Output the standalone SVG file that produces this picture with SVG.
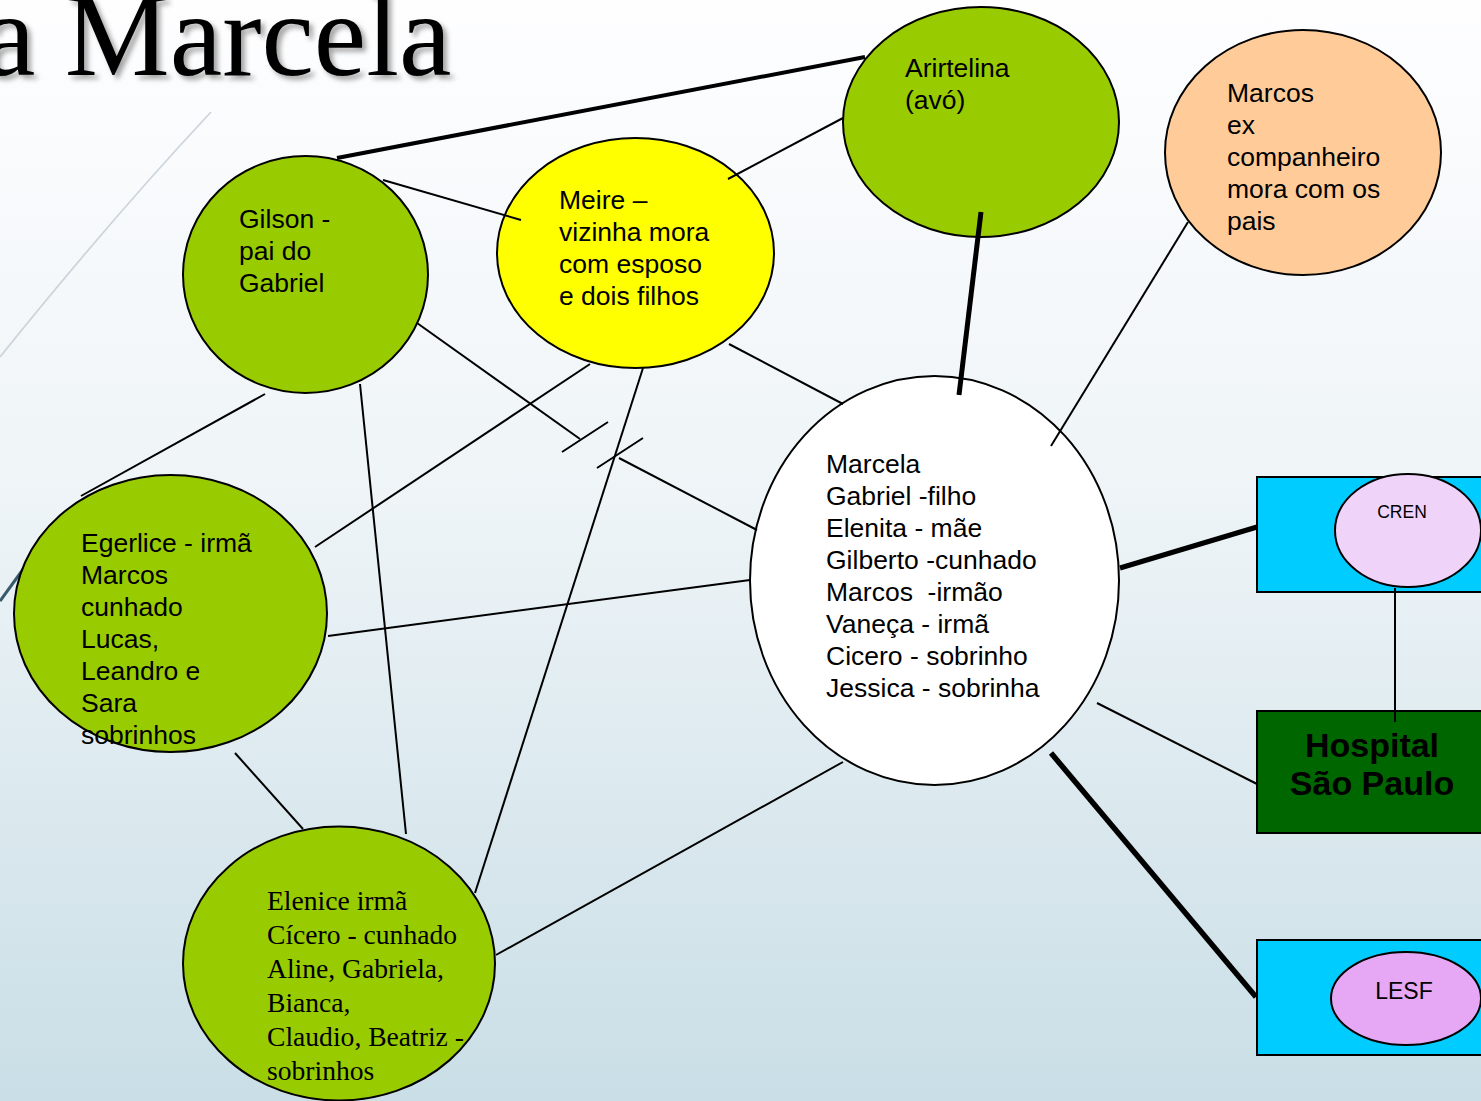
<svg xmlns="http://www.w3.org/2000/svg" width="1481" height="1101" viewBox="0 0 1481 1101">
  <defs>
    <linearGradient id="bg" x1="0" y1="0" x2="0" y2="1">
      <stop offset="0" stop-color="#fefeff"/>
      <stop offset="0.45" stop-color="#eef4f7"/>
      <stop offset="1" stop-color="#c9dee6"/>
    </linearGradient>
    <filter id="shadow" x="-10%" y="-20%" width="120%" height="150%">
      <feGaussianBlur in="SourceAlpha" stdDeviation="2.5"/>
      <feOffset dx="4" dy="4" result="b"/>
      <feFlood flood-color="#000" flood-opacity="0.35"/>
      <feComposite in2="b" operator="in"/>
      <feMerge><feMergeNode/><feMergeNode in="SourceGraphic"/></feMerge>
    </filter>
    <style>
      .node { stroke: #000; stroke-width: 2; }
      .green { fill: #99cc00; }
      .sans { font-family: "Liberation Sans", Arial, sans-serif; font-size: 26.5px; fill: #000; }
      .serif { font-family: "Liberation Serif", "Times New Roman", serif; font-size: 27.6px; fill: #000; }
      .thin { stroke: #000; stroke-width: 2; fill: none; }
      .thick { stroke: #000; stroke-width: 5; fill: none; }
    </style>
  </defs>

  <rect width="1481" height="1101" fill="url(#bg)"/>

  <!-- theme decoration arcs -->
  <path d="M211,112 Q110,220 0,357" fill="none" stroke="#cdd5dc" stroke-width="1.8"/>
  <path d="M0,601 L24,568" fill="none" stroke="#36596c" stroke-width="3"/>

  <!-- title (runs past the left and top edges of the slide) -->
  <text x="-17" y="75" font-family="'Liberation Serif', 'Times New Roman', serif" font-size="118" fill="#000" filter="url(#shadow)">a Marcela</text>

  <!-- nodes -->
  <g id="gilson">
    <ellipse class="node green" cx="305.5" cy="274.5" rx="122.5" ry="118.5"/>
    <text class="sans"><tspan x="239" y="228">Gilson -</tspan><tspan x="239" y="260">pai do</tspan><tspan x="239" y="292">Gabriel</tspan></text>
  </g>
  <g id="meire">
    <ellipse class="node" fill="#ffff00" cx="635.5" cy="253" rx="138.5" ry="115"/>
    <text class="sans"><tspan x="559" y="209">Meire –</tspan><tspan x="559" y="241">vizinha mora</tspan><tspan x="559" y="273">com esposo</tspan><tspan x="559" y="305">e dois filhos</tspan></text>
  </g>
  <g id="arirtelina">
    <ellipse class="node green" cx="981" cy="122" rx="138" ry="115"/>
    <text class="sans"><tspan x="905" y="77">Arirtelina</tspan><tspan x="905" y="109">(avó)</tspan></text>
  </g>
  <g id="marcos">
    <ellipse class="node" fill="#ffcc99" cx="1303" cy="152.5" rx="138" ry="122.5"/>
    <text class="sans"><tspan x="1227" y="102">Marcos</tspan><tspan x="1227" y="134">ex</tspan><tspan x="1227" y="166">companheiro</tspan><tspan x="1227" y="198">mora com os</tspan><tspan x="1227" y="230">pais</tspan></text>
  </g>
  <g id="marcela">
    <ellipse class="node" fill="#ffffff" cx="934.5" cy="580.5" rx="184.5" ry="204.5"/>
    <text class="sans">
      <tspan x="826" y="473">Marcela</tspan>
      <tspan x="826" y="505">Gabriel -filho</tspan>
      <tspan x="826" y="537">Elenita - mãe</tspan>
      <tspan x="826" y="569">Gilberto -cunhado</tspan>
      <tspan x="826" y="601" xml:space="preserve">Marcos  -irmão</tspan>
      <tspan x="826" y="633">Vaneça - irmã</tspan>
      <tspan x="826" y="665">Cicero - sobrinho</tspan>
      <tspan x="826" y="697">Jessica - sobrinha</tspan>
    </text>
  </g>
  <g id="egerlice">
    <ellipse class="node green" cx="170.5" cy="613.5" rx="156.5" ry="138.5"/>
    <text class="sans">
      <tspan x="81" y="552">Egerlice - irmã</tspan>
      <tspan x="81" y="584">Marcos</tspan>
      <tspan x="81" y="616">cunhado</tspan>
      <tspan x="81" y="648">Lucas,</tspan>
      <tspan x="81" y="680">Leandro e</tspan>
      <tspan x="81" y="712">Sara</tspan>
      <tspan x="81" y="744">sobrinhos</tspan>
    </text>
  </g>
  <g id="elenice">
    <ellipse class="node green" cx="339" cy="963.5" rx="156" ry="137"/>
    <text class="serif">
      <tspan x="267" y="910">Elenice irmã</tspan>
      <tspan x="267" y="944">Cícero - cunhado</tspan>
      <tspan x="267" y="978">Aline, Gabriela,</tspan>
      <tspan x="267" y="1012">Bianca,</tspan>
      <tspan x="267" y="1046">Claudio, Beatriz -</tspan>
      <tspan x="267" y="1080">sobrinhos</tspan>
    </text>
  </g>
  <g id="cren">
    <rect class="node" fill="#00ccff" x="1257" y="477" width="240" height="115"/>
    <ellipse class="node" fill="#f0d3f9" cx="1408" cy="530.5" rx="73" ry="56.5"/>
    <text x="1402" y="518" text-anchor="middle" font-family="'Liberation Sans', Arial, sans-serif" font-size="17.5" fill="#000">CREN</text>
  </g>
  <g id="hospital">
    <rect class="node" fill="#006600" x="1257" y="711" width="240" height="122"/>
    <text text-anchor="middle" font-family="'Liberation Sans', Arial, sans-serif" font-size="34" font-weight="bold" fill="#000"><tspan x="1372" y="757">Hospital</tspan><tspan x="1372" y="795">São Paulo</tspan></text>
  </g>
  <g id="lesf">
    <rect class="node" fill="#00ccff" x="1257" y="940" width="240" height="115"/>
    <ellipse class="node" fill="#e6a8f5" cx="1406" cy="998.5" rx="75" ry="46.5"/>
    <text x="1404" y="999" text-anchor="middle" font-family="'Liberation Sans', Arial, sans-serif" font-size="23" fill="#000">LESF</text>
  </g>

  <!-- connectors -->
  <g id="connectors">
    <line class="thick" style="stroke-width:4" x1="337" y1="158" x2="865" y2="57"/>
    <line class="thin" x1="383" y1="180" x2="521" y2="220"/>
    <line class="thin" x1="843" y1="118" x2="728" y2="179"/>
    <line class="thick" x1="981" y1="212" x2="959" y2="395"/>
    <line class="thin" x1="1188" y1="222" x2="1051" y2="446"/>
    <line class="thin" x1="729" y1="344" x2="843" y2="404"/>
    <!-- broken link with double tick -->
    <line class="thin" x1="417" y1="323" x2="580" y2="439"/>
    <line class="thin" x1="562" y1="452" x2="608" y2="422"/>
    <line class="thin" x1="597" y1="468" x2="643" y2="438"/>
    <line class="thin" x1="619" y1="458" x2="757" y2="530"/>
    <line class="thin" x1="590" y1="364" x2="315" y2="547"/>
    <line class="thin" x1="643" y1="368" x2="475" y2="893"/>
    <line class="thin" x1="265" y1="394" x2="81" y2="496"/>
    <line class="thin" x1="360" y1="384" x2="406" y2="834"/>
    <line class="thin" x1="328" y1="636" x2="750" y2="580"/>
    <line class="thin" x1="235" y1="753" x2="303" y2="829"/>
    <line class="thin" x1="496" y1="955" x2="843" y2="762"/>
    <line class="thick" x1="1120" y1="568" x2="1257" y2="527"/>
    <line class="thin" x1="1097" y1="703" x2="1257" y2="784"/>
    <line class="thick" style="stroke-width:5.5" x1="1051" y1="753" x2="1256" y2="997"/>
    <line class="thin" x1="1395" y1="588" x2="1395" y2="722"/>
  </g>
</svg>
